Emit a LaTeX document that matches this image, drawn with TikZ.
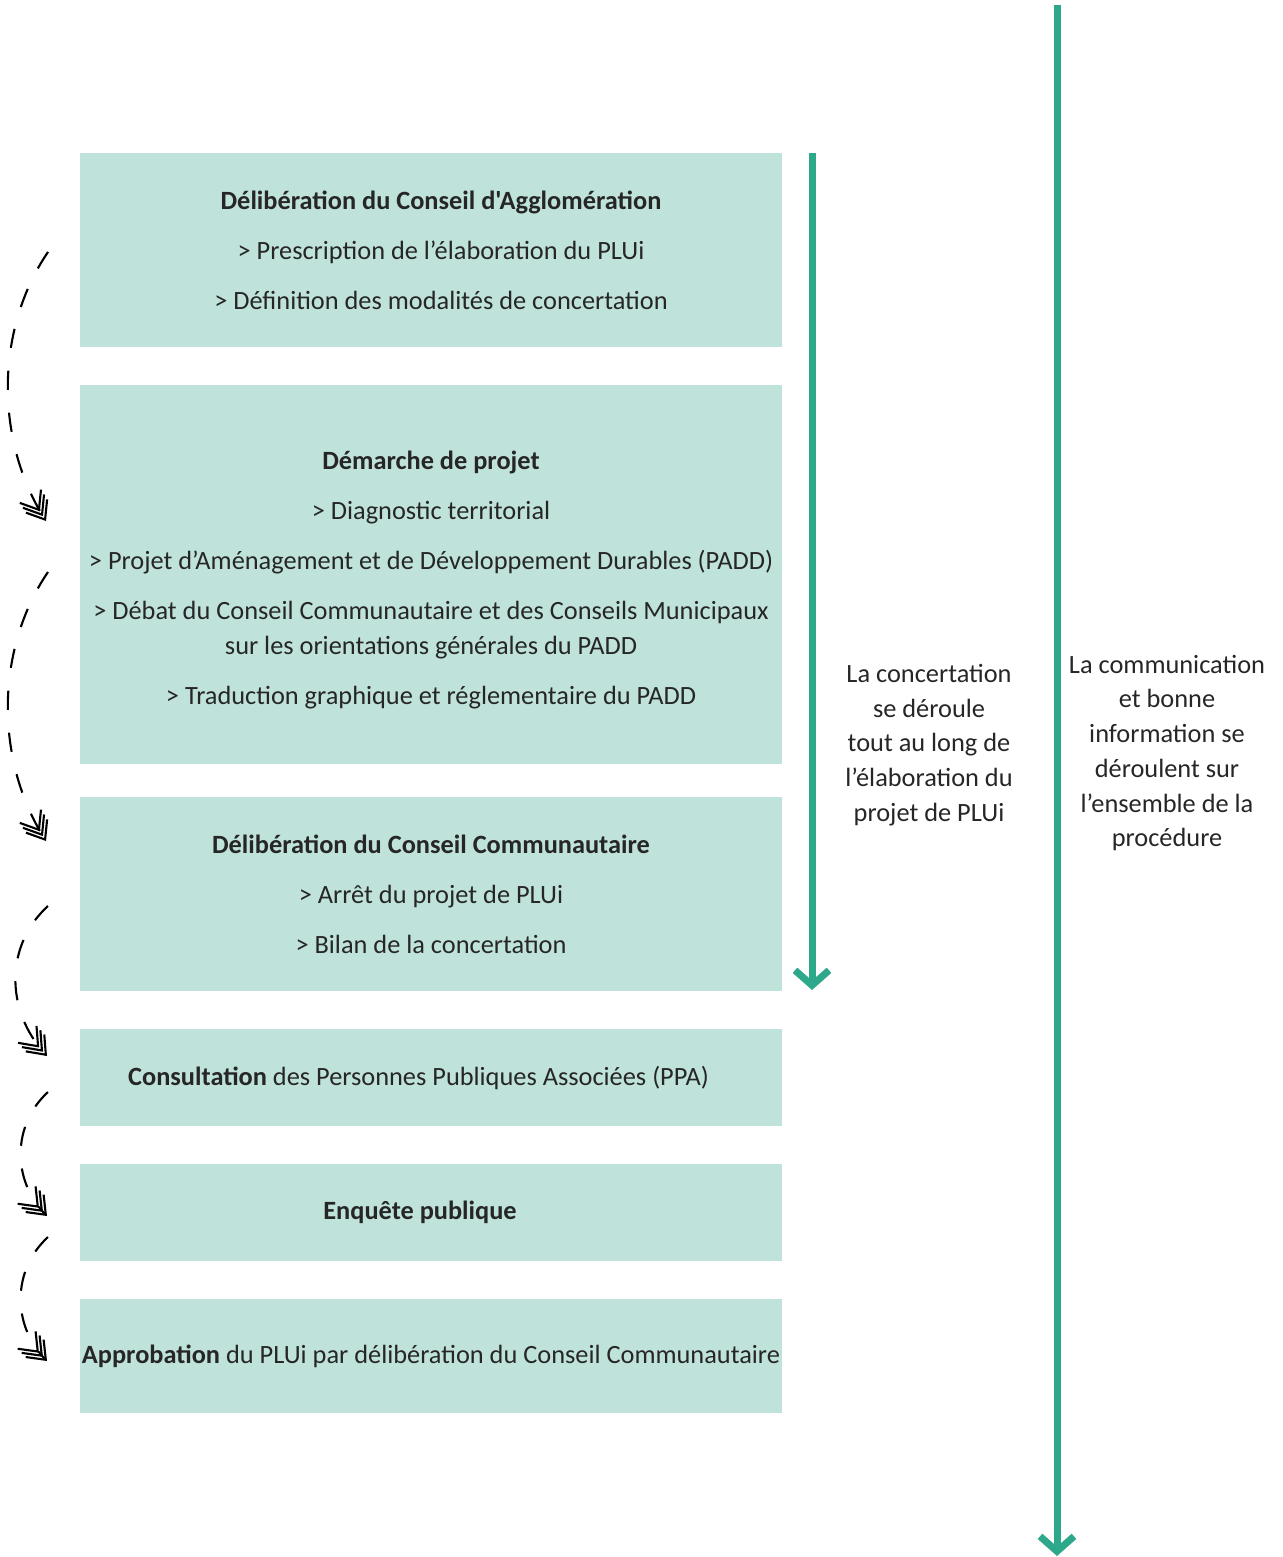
\documentclass[tikz,border=0pt]{standalone}
\usepackage{fontspec}
\setmainfont{Carlito}[Ligatures=TeXOff]
\usetikzlibrary{arrows.meta}
\definecolor{boxfill}{HTML}{BFE3DA}
\definecolor{flowgreen}{HTML}{2EA88A}
\definecolor{txt}{HTML}{262626}
\begin{document}
\begin{tikzpicture}[x=0.02cm,y=-0.02cm,
    stage/.style={rectangle,fill=boxfill,inner sep=0pt,minimum width=14.04cm,align=center,text=txt,font=\fontsize{15}{19.8}\selectfont},
    period/.style={line width=4pt,draw=flowgreen,-{Straight Barb[length=3mm,width=6.8mm]}},
    note/.style={align=center,text=txt,font=\fontsize{15}{19.8}\selectfont},
    next/.style={line width=1.2pt,dash pattern=on 11pt off 13pt,
        -{Straight Barb[length=3.2mm,width=5mm,sep=-2.6mm]Straight Barb[length=3.2mm,width=5mm,sep=-2.6mm]Straight Barb[length=3.2mm,width=5mm]}}]
            \useasboundingbox (0,0) rectangle (1282,1557);

            % Stages
            \node [stage,minimum height=3.88cm] (s1) at (431,250) {\hspace*{0.4cm}\textbf{Délibération du Conseil d'Agglomération}\\[8.6pt]
                \hspace*{0.4cm}> Prescription de l’élaboration du PLUi\\[8.6pt]
                \hspace*{0.4cm}> Définition des modalités de concertation};
            \node [stage,minimum height=7.58cm] (s2) at (431,574.5) {\rule{0pt}{17pt}\textbf{Démarche de projet}\\[8.6pt]
                > Diagnostic territorial\\[8.6pt]
                > Projet d’Aménagement et de Développement Durables (PADD)\\[8.6pt]
                > Débat du Conseil Communautaire et des Conseils Municipaux\\
                sur les orientations générales du PADD\\[8.6pt]
                > Traduction graphique et réglementaire du PADD};
            \node [stage,minimum height=3.88cm] (s3) at (431,894) {\textbf{Délibération du Conseil Communautaire}\\[8.6pt]
                > Arrêt du projet de PLUi\\[8.6pt]
                > Bilan de la concertation};
            \node [stage,minimum height=1.94cm] (s4) at (431,1077.5) {\textbf{Consultation} des Personnes Publiques Associées (PPA)\hspace*{0.5cm}};
            \node [stage,minimum height=1.94cm] (s5) at (431,1212.5) {\textbf{Enquête publique}\hspace*{0.44cm}};
            \node [stage,minimum height=2.28cm] (s6) at (431,1356) {\textbf{Approbation} du PLUi par délibération du Conseil Communautaire};

            % Periods
            \coordinate (c1) at (812,153);
            \coordinate (c2) at (812,990);
            \coordinate (i1) at (1057,5);
            \coordinate (i2) at (1057,1556);
            \draw [period] (c1)--(c2);
            \draw [period] (i1)--(i2);
            \node [note] (cn) at (929,745) {La concertation\\se déroule\\tout au long de\\l’élaboration du\\projet de PLUi};
            \node [note] (in) at (1167,753) {La communication\\et bonne\\information se\\déroulent sur\\l’ensemble de la\\procédure};

            % Sequence
            \coordinate (a1) at (48,252);  \coordinate (b1) at (46,521);
            \coordinate (a2) at (48,572);  \coordinate (b2) at (46,841);
            \coordinate (a3) at (48,906);  \coordinate (b3) at (47,1056);
            \coordinate (a4) at (48,1092); \coordinate (b4) at (47,1216);
            \coordinate (a5) at (48,1237); \coordinate (b5) at (47,1361);
            \draw [next] (a1) .. controls (-5,330) and (-5,440) .. (b1);
            \draw [next] (a2) .. controls (-5,650) and (-5,760) .. (b2);
            \draw [next] (a3) .. controls (5,945) and (5,1010) .. (b3);
            \draw [next] (a4) .. controls (12,1125) and (12,1180) .. (b4);
            \draw [next] (a5) .. controls (12,1270) and (12,1325) .. (b5);
        \end{tikzpicture}
\end{document}
